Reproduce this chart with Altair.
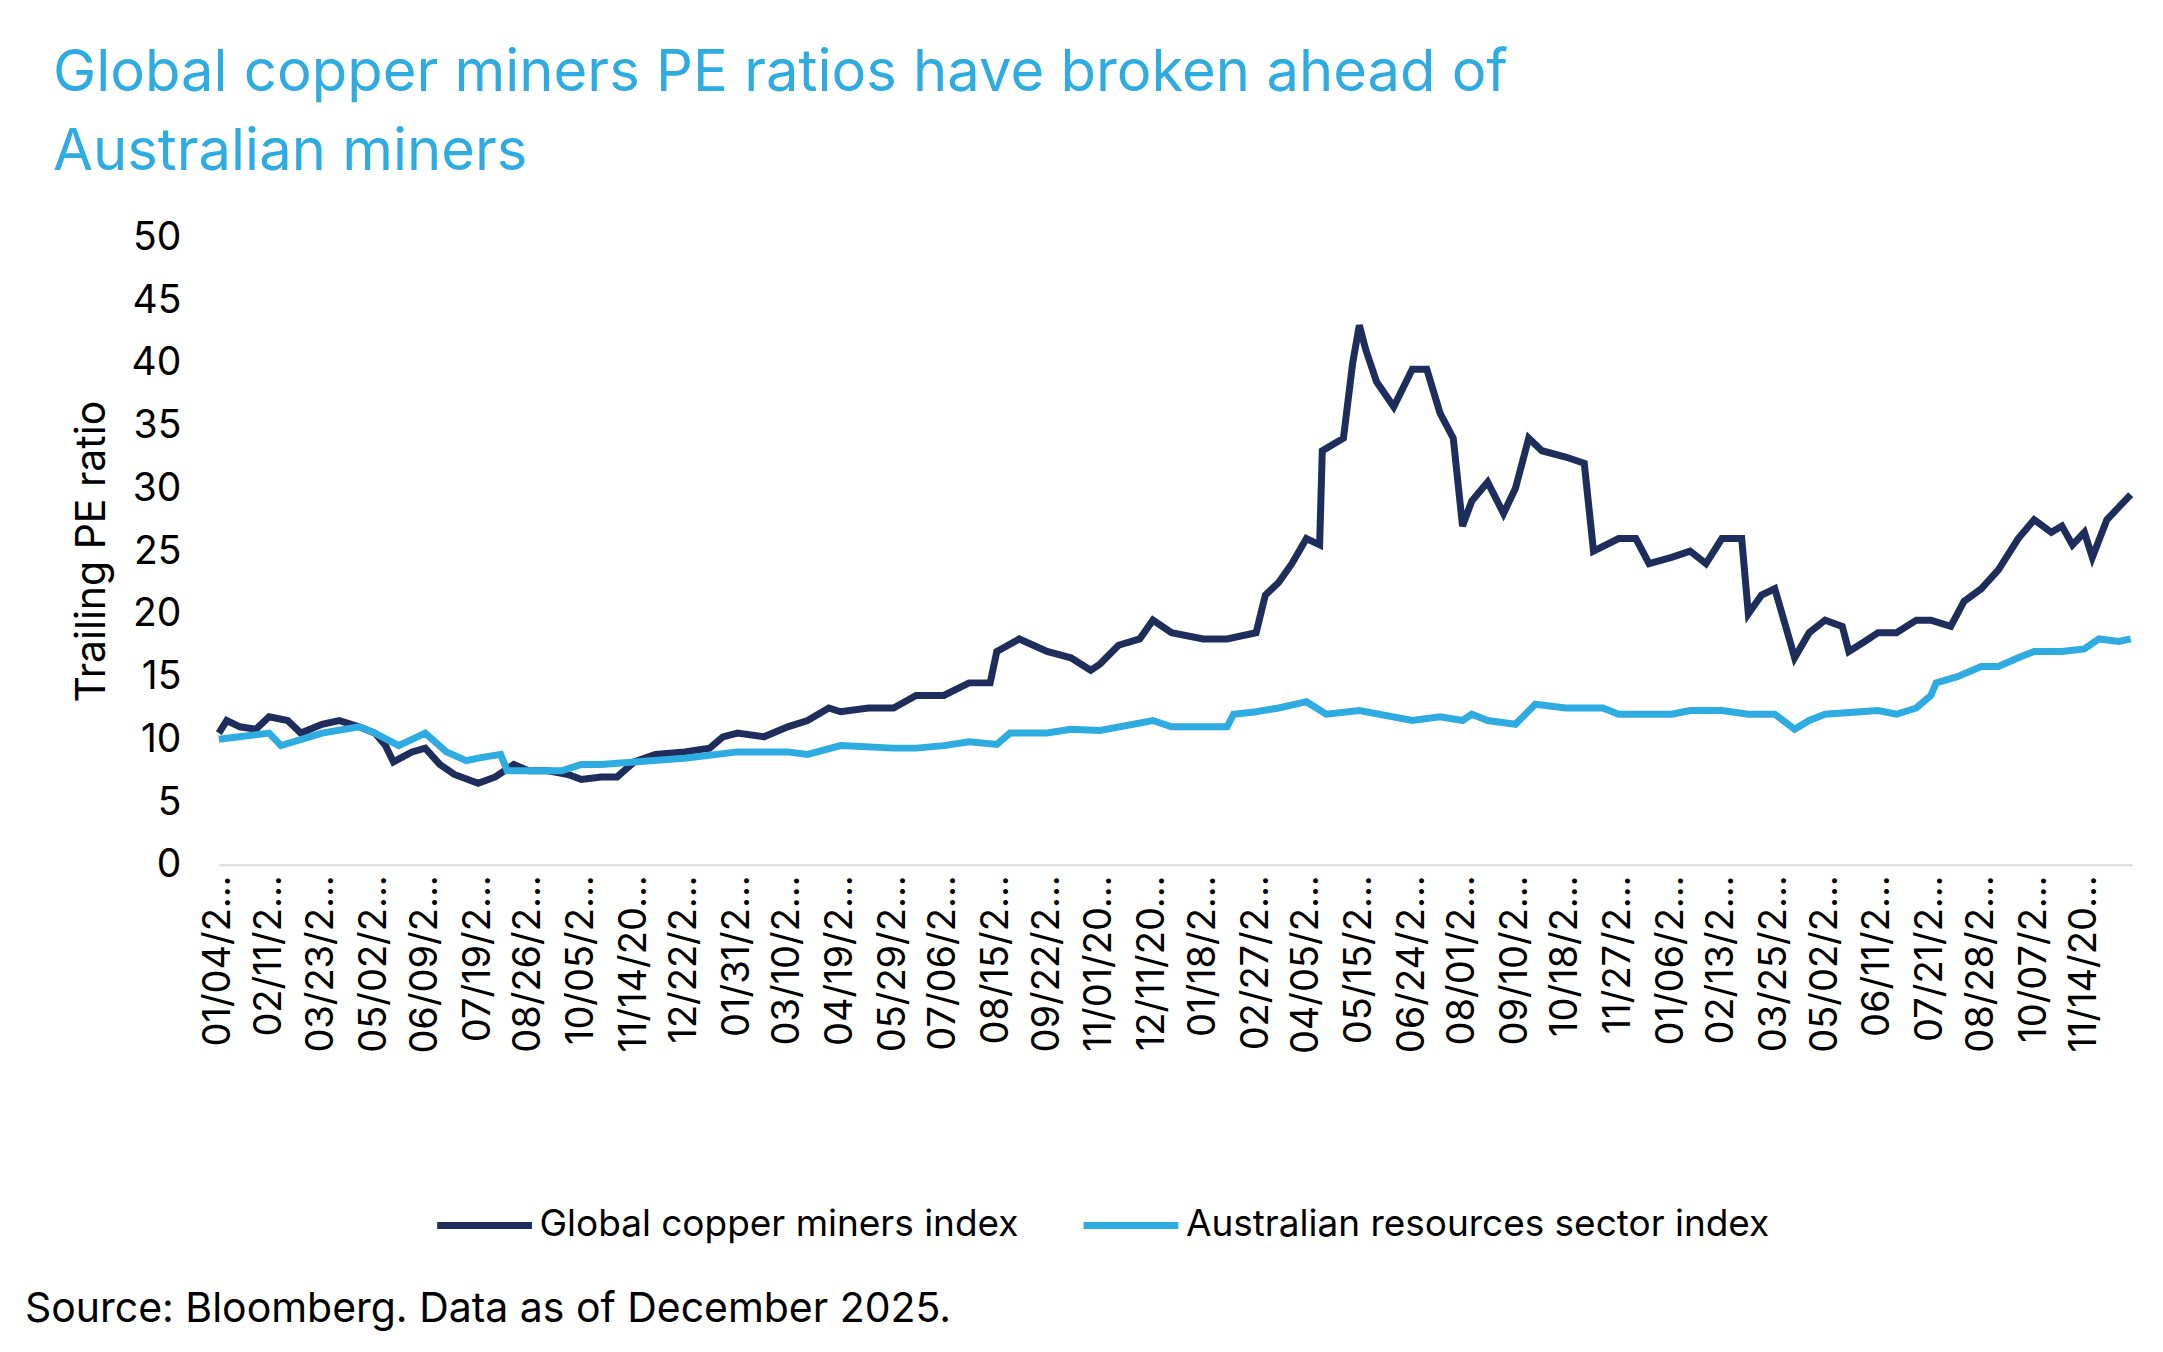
import altair as alt
import pandas as pd

# Global copper miners index (trailing PE)
cu_dates = ["2022-01-04", "2022-01-10", "2022-01-20", "2022-02-01", "2022-02-11", "2022-02-25", "2022-03-07",
            "2022-03-23", "2022-04-05", "2022-04-20", "2022-05-02", "2022-05-10", "2022-05-16", "2022-05-30",
            "2022-06-09", "2022-06-20", "2022-07-01", "2022-07-19", "2022-08-01", "2022-08-15", "2022-08-26",
            "2022-09-10", "2022-09-25", "2022-10-05", "2022-10-20", "2022-11-01", "2022-11-14", "2022-11-30",
            "2022-12-22", "2023-01-10", "2023-01-20", "2023-01-31", "2023-02-20", "2023-03-10", "2023-03-25",
            "2023-04-10", "2023-04-19", "2023-05-10", "2023-05-29", "2023-06-15", "2023-07-06", "2023-07-25",
            "2023-08-10", "2023-08-15", "2023-09-01", "2023-09-22", "2023-10-10", "2023-10-25", "2023-11-01",
            "2023-11-15", "2023-12-01", "2023-12-11", "2023-12-25", "2024-01-18", "2024-02-05", "2024-02-27",
            "2024-03-05", "2024-03-15", "2024-03-25", "2024-04-05", "2024-04-15", "2024-04-17", "2024-04-25",
            "2024-05-03", "2024-05-10", "2024-05-15", "2024-05-20", "2024-05-28", "2024-06-10", "2024-06-24",
            "2024-07-05", "2024-07-15", "2024-07-25", "2024-08-01", "2024-08-08", "2024-08-20", "2024-09-01",
            "2024-09-10", "2024-09-20", "2024-09-30", "2024-10-18", "2024-11-01", "2024-11-08", "2024-11-27",
            "2024-12-10", "2024-12-20", "2025-01-06", "2025-01-20", "2025-02-01", "2025-02-13", "2025-02-28",
            "2025-03-05", "2025-03-15", "2025-03-25", "2025-04-05", "2025-04-09", "2025-04-20", "2025-05-02",
            "2025-05-15", "2025-05-20", "2025-06-01", "2025-06-11", "2025-06-25", "2025-07-10", "2025-07-21",
            "2025-08-05", "2025-08-15", "2025-08-28", "2025-09-10", "2025-09-25", "2025-10-07", "2025-10-20",
            "2025-10-28", "2025-11-05", "2025-11-14", "2025-11-20", "2025-12-01", "2025-12-10", "2025-12-19"]
cu_values = [10.5, 11.5, 11, 10.8, 11.8, 11.5, 10.5,
             11.2, 11.5, 11, 10.5, 9.5, 8.2, 9,
             9.3, 8, 7.2, 6.5, 7, 8, 7.5,
             7.5, 7.2, 6.8, 7, 7, 8.2, 8.8,
             9, 9.3, 10.2, 10.5, 10.2, 11, 11.5,
             12.5, 12.2, 12.5, 12.5, 13.5, 13.5, 14.5,
             14.5, 17, 18, 17, 16.5, 15.5, 16,
             17.5, 18, 19.5, 18.5, 18, 18, 18.5,
             21.5, 22.5, 24, 26, 25.5, 33, 33.5,
             34, 40, 43, 41, 38.5, 36.5, 39.5,
             39.5, 36, 34, 27, 29, 30.5, 28,
             30, 34, 33, 32.5, 32, 25, 26,
             26, 24, 24.5, 25, 24, 26, 26,
             20, 21.5, 22, 18, 16.5, 18.5, 19.5,
             19, 17, 17.8, 18.5, 18.5, 19.5, 19.5,
             19, 21, 22, 23.5, 26, 27.5, 26.5,
             27, 25.5, 26.5, 24.5, 27.5, 28.5, 29.5]

# Australian resources sector index (trailing PE)
au_dates = ["2022-01-04", "2022-02-11", "2022-02-20", "2022-03-23", "2022-04-20", "2022-05-02", "2022-05-20",
            "2022-06-09", "2022-06-25", "2022-07-10", "2022-07-19", "2022-08-05", "2022-08-10", "2022-08-26",
            "2022-09-20", "2022-10-05", "2022-10-20", "2022-11-14", "2022-12-22", "2023-01-31", "2023-03-10",
            "2023-03-25", "2023-04-19", "2023-05-29", "2023-06-15", "2023-07-06", "2023-07-25", "2023-08-15",
            "2023-08-25", "2023-09-22", "2023-10-10", "2023-11-01", "2023-12-11", "2023-12-25", "2024-01-18",
            "2024-02-05", "2024-02-10", "2024-02-27", "2024-03-15", "2024-04-05", "2024-04-20", "2024-05-15",
            "2024-06-24", "2024-07-15", "2024-08-01", "2024-08-08", "2024-08-20", "2024-09-10", "2024-09-25",
            "2024-10-18", "2024-11-15", "2024-11-27", "2024-12-20", "2025-01-06", "2025-01-20", "2025-02-13",
            "2025-03-05", "2025-03-25", "2025-04-09", "2025-04-20", "2025-05-02", "2025-06-11", "2025-06-25",
            "2025-07-10", "2025-07-21", "2025-07-25", "2025-08-10", "2025-08-28", "2025-09-10", "2025-09-25",
            "2025-10-07", "2025-10-28", "2025-11-14", "2025-11-25", "2025-12-10", "2025-12-19"]
au_values = [10, 10.5, 9.5, 10.5, 11, 10.5, 9.5,
             10.5, 9, 8.3, 8.5, 8.8, 7.5, 7.5,
             7.5, 8, 8, 8.2, 8.5, 9, 9,
             8.8, 9.5, 9.3, 9.3, 9.5, 9.8, 9.6,
             10.5, 10.5, 10.8, 10.7, 11.5, 11, 11,
             11, 12, 12.2, 12.5, 13, 12, 12.3,
             11.5, 11.8, 11.5, 12, 11.5, 11.2, 12.8,
             12.5, 12.5, 12, 12, 12, 12.3, 12.3,
             12, 12, 10.8, 11.5, 12, 12.3, 12,
             12.5, 13.5, 14.5, 15, 15.8, 15.8, 16.5,
             17, 17, 17.2, 18, 17.8, 18]

tick_dates = ["2022-01-04", "2022-02-11", "2022-03-23", "2022-05-02", "2022-06-09", "2022-07-19", "2022-08-26",
              "2022-10-05", "2022-11-14", "2022-12-22", "2023-01-31", "2023-03-10", "2023-04-19", "2023-05-29",
              "2023-07-06", "2023-08-15", "2023-09-22", "2023-11-01", "2023-12-11", "2024-01-18", "2024-02-27",
              "2024-04-05", "2024-05-15", "2024-06-24", "2024-08-01", "2024-09-10", "2024-10-18", "2024-11-27",
              "2025-01-06", "2025-02-13", "2025-03-25", "2025-05-02", "2025-06-11", "2025-07-21", "2025-08-28",
              "2025-10-07", "2025-11-14"]

s1 = "Global copper miners index"
s2 = "Australian resources sector index"

df = pd.concat([
    pd.DataFrame({"date": cu_dates, "pe": cu_values, "series": s1}),
    pd.DataFrame({"date": au_dates, "pe": au_values, "series": s2}),
])

font = "Inter"

lines = alt.Chart(df).mark_line(strokeWidth=7).encode(
    x=alt.X("date:T",
            scale=alt.Scale(domain=["2022-01-04", "2025-12-20"]),
            axis=alt.Axis(values=tick_dates, format="%m/%d/%Y", labelAngle=-90, title=None,
                          grid=False, ticks=False, labelFontSize=38, labelColor="#000",
                          domainColor="#d9d9d9", domainWidth=2, labelPadding=10)),
    y=alt.Y("pe:Q", scale=alt.Scale(domain=[0, 50]),
            axis=alt.Axis(values=list(range(0, 51, 5)), title="Trailing PE ratio", grid=False,
                          domain=False, ticks=False, labelFontSize=39, labelColor="#000",
                          titleFontSize=41, titleFontWeight="normal", titleColor="#000",
                          labelPadding=38, titlePadding=18)),
    color=alt.Color("series:N", scale=alt.Scale(domain=[s1, s2], range=["#1f2d5c", "#2eabe0"]),
                    legend=alt.Legend(title=None, orient="none", direction="horizontal",
                                      legendX=215, legendY=938, symbolType="stroke",
                                      symbolStrokeWidth=7, symbolSize=9000, labelFontSize=37,
                                      labelColor="#000", columnPadding=50, labelLimit=900)),
)

source = alt.Chart(pd.DataFrame({"t": ["Source: Bloomberg. Data as of December 2025."]})).mark_text(
    align="left", baseline="middle", fontSize=41, font=font, color="#000"
).encode(text="t:N", x=alt.value(-194), y=alt.value(1074))

chart = alt.layer(lines, source).properties(
    width=1915, height=628,
    padding={"left": 17, "top": 36, "right": 10, "bottom": 10},
    title=alt.TitleParams(
        ["Global copper miners PE ratios have broken ahead of", "Australian miners"],
        anchor="start", dx=28, fontSize=58, fontWeight="normal", color="#2eabe0",
        lineHeight=80, offset=36, font=font),
).configure(font=font).configure_view(stroke=None)

chart.save("out.html", embed_options={"renderer": "svg", "actions": False})
